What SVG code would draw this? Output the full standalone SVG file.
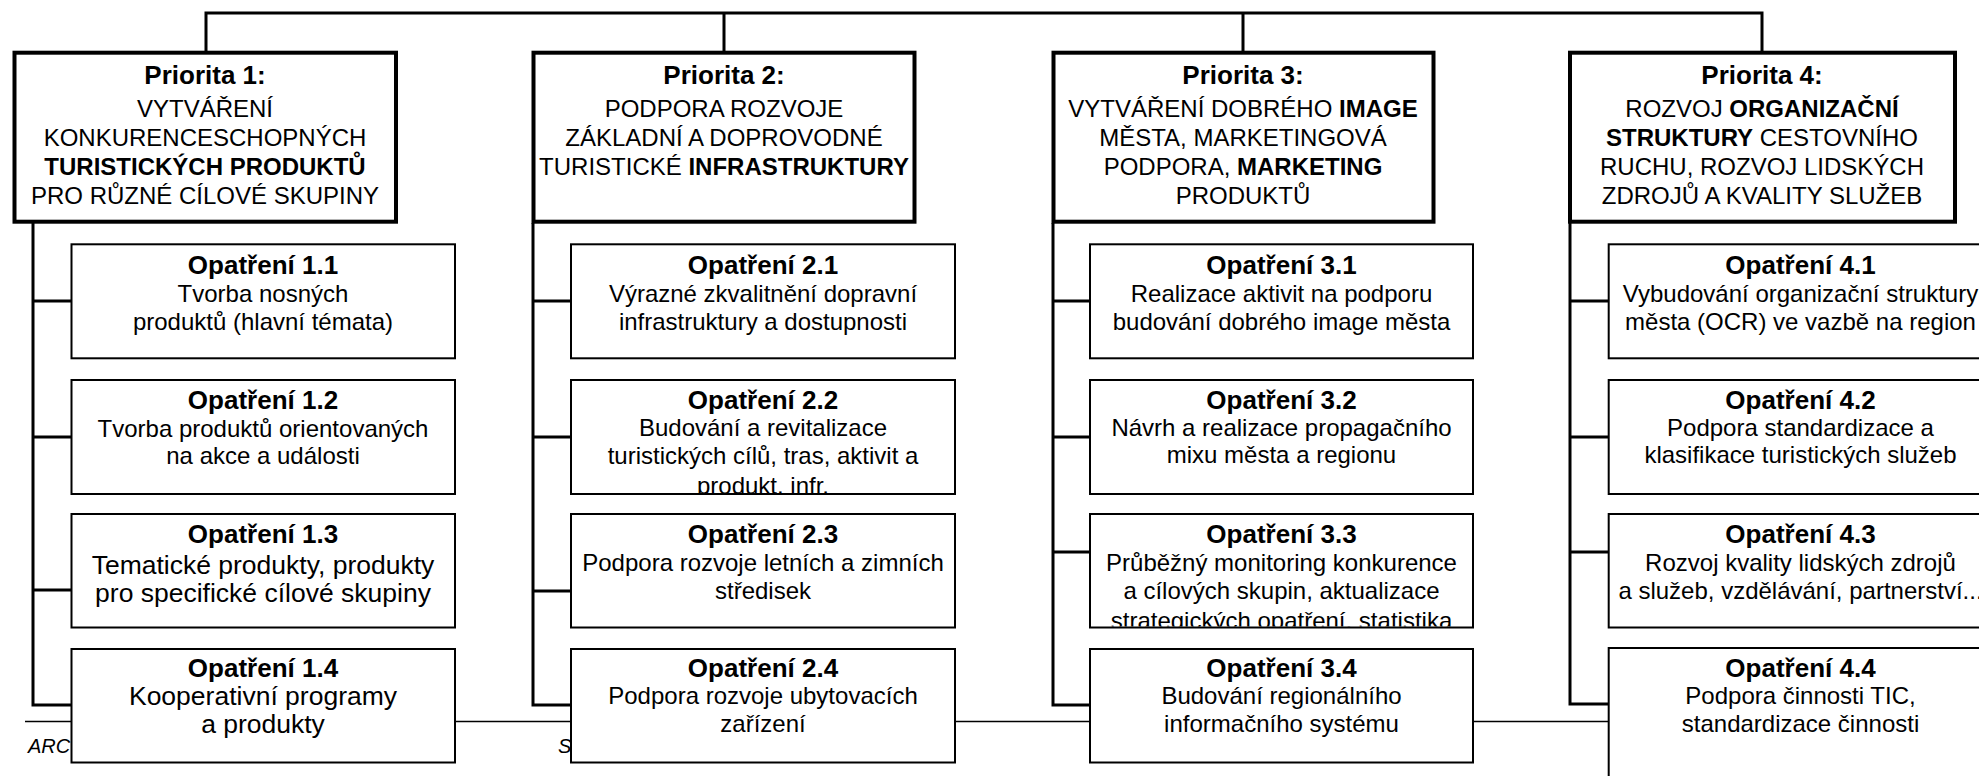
<svg xmlns="http://www.w3.org/2000/svg" width="1979" height="776" viewBox="0 0 1979 776">
<style>
.pbox{fill:#fff;stroke:#000;stroke-width:4}
.mbox{fill:#fff;stroke:#000;stroke-width:2}
.conn{fill:none;stroke:#000;stroke-width:3}
.foot{fill:none;stroke:#000;stroke-width:1.5}
text{font-family:"Liberation Sans",Arial,sans-serif;text-anchor:middle;fill:#000}
.h{font-weight:bold;font-size:26px}
.t{font-size:24px}
.tl{font-size:26.5px}
.b{font-weight:bold}
.ft{font-size:20px;font-style:italic;text-anchor:start}
</style>
<defs>
<clipPath id="c22"><rect x="572" y="381" width="382" height="112"/></clipPath>
<clipPath id="c33"><rect x="1091" y="515" width="381" height="111.5"/></clipPath>
</defs>
<rect width="1979" height="776" fill="#fff"/>
<g id="footer">
<path class="foot" d="M25,721.5 H1979"/>
<text class="ft" x="28" y="753">ARC</text>
<text class="ft" x="558" y="753">S</text>
</g>
<g id="connectors">
<path class="conn" d="M206,51 V13 H1762 V51 M724,13 V51 M1243,13 V51"/>
<path class="conn" d="M33,223 V705 H71 M33,301 H71 M33,437 H71 M33,590 H71"/>
<path class="conn" d="M533,223 V705 H571 M533,301 H571 M533,437 H571 M533,591 H571"/>
<path class="conn" d="M1053,223 V705 H1090 M1053,301 H1090 M1053,437 H1090 M1053,552 H1090"/>
<path class="conn" d="M1570,223 V704 H1608 M1570,301 H1608 M1570,437 H1608 M1570,552 H1608"/>
</g>
<g id="p1">
<rect class="pbox" x="14.5" y="52.7" width="381.5" height="169"/>
<text class="h" x="205" y="84">Priorita 1:</text>
<text class="t" x="205" y="117">VYTVÁŘENÍ</text>
<text class="t" x="205" y="146">KONKURENCESCHOPNÝCH</text>
<text class="t b" x="205" y="175">TURISTICKÝCH PRODUKTŮ</text>
<text class="t" x="205" y="204">PRO RŮZNÉ CÍLOVÉ SKUPINY</text>
</g>
<g id="p2">
<rect class="pbox" x="533.5" y="52.7" width="381" height="169"/>
<text class="h" x="724" y="84">Priorita 2:</text>
<text class="t" x="724" y="117">PODPORA ROZVOJE</text>
<text class="t" x="724" y="146">ZÁKLADNÍ A DOPROVODNÉ</text>
<text class="t" x="724" y="175">TURISTICKÉ <tspan class="b">INFRASTRUKTURY</tspan></text>
</g>
<g id="p3">
<rect class="pbox" x="1053.5" y="52.7" width="380" height="169"/>
<text class="h" x="1243" y="84">Priorita 3:</text>
<text class="t" x="1243" y="117">VYTVÁŘENÍ DOBRÉHO <tspan class="b">IMAGE</tspan></text>
<text class="t" x="1243" y="146">MĚSTA, MARKETINGOVÁ</text>
<text class="t" x="1243" y="175">PODPORA, <tspan class="b">MARKETING</tspan></text>
<text class="t" x="1243" y="204">PRODUKTŮ</text>
</g>
<g id="p4">
<rect class="pbox" x="1570" y="52.7" width="385" height="169"/>
<text class="h" x="1762" y="84">Priorita 4:</text>
<text class="t" x="1762" y="117">ROZVOJ <tspan class="b">ORGANIZAČNÍ</tspan></text>
<text class="t" x="1762" y="146"><tspan class="b">STRUKTURY</tspan> CESTOVNÍHO</text>
<text class="t" x="1762" y="175">RUCHU, ROZVOJ LIDSKÝCH</text>
<text class="t" x="1762" y="204">ZDROJŮ A KVALITY SLUŽEB</text>
</g>
<g id="m11">
<rect class="mbox" x="71.5" y="244.3" width="383.5" height="114"/>
<text class="h" x="263" y="274">Opatření 1.1</text>
<text class="t" x="263" y="302">Tvorba nosných</text>
<text class="t" x="263" y="330">produktů (hlavní témata)</text>
</g>
<g id="m12">
<rect class="mbox" x="71.5" y="380" width="383.5" height="114"/>
<text class="h" x="263" y="409">Opatření 1.2</text>
<text class="t" x="263" y="436.5">Tvorba produktů orientovaných</text>
<text class="t" x="263" y="463.5">na akce a události</text>
</g>
<g id="m13">
<rect class="mbox" x="71.5" y="514" width="383.5" height="113.5"/>
<text class="h" x="263" y="543">Opatření 1.3</text>
<text class="tl" x="263" y="574">Tematické produkty, produkty</text>
<text class="tl" x="263" y="602">pro specifické cílové skupiny</text>
</g>
<g id="m14">
<rect class="mbox" x="71.5" y="649" width="383.5" height="113.5"/>
<text class="h" x="263" y="677">Opatření 1.4</text>
<text class="tl" x="263" y="705">Kooperativní programy</text>
<text class="tl" x="263" y="733">a produkty</text>
</g>
<g id="m21">
<rect class="mbox" x="571" y="244.3" width="384" height="114"/>
<text class="h" x="763" y="274">Opatření 2.1</text>
<text class="t" x="763" y="302">Výrazné zkvalitnění dopravní</text>
<text class="t" x="763" y="330">infrastruktury a dostupnosti</text>
</g>
<g id="m22">
<rect class="mbox" x="571" y="380" width="384" height="114"/>
<text class="h" x="763" y="409">Opatření 2.2</text>
<text class="t" x="763" y="436">Budování a revitalizace</text>
<text class="t" x="763" y="463.5">turistických cílů, tras, aktivit a</text>
<text class="t" x="763" y="494" clip-path="url(#c22)">produkt. infr.</text>
</g>
<g id="m23">
<rect class="mbox" x="571" y="514" width="384" height="113.5"/>
<text class="h" x="763" y="543">Opatření 2.3</text>
<text class="t" x="763" y="571">Podpora rozvoje letních a zimních</text>
<text class="t" x="763" y="599">středisek</text>
</g>
<g id="m24">
<rect class="mbox" x="571" y="649" width="384" height="113.5"/>
<text class="h" x="763" y="677">Opatření 2.4</text>
<text class="t" x="763" y="704">Podpora rozvoje ubytovacích</text>
<text class="t" x="763" y="732">zařízení</text>
</g>
<g id="m31">
<rect class="mbox" x="1090" y="244.3" width="383" height="114"/>
<text class="h" x="1281.5" y="273.5">Opatření 3.1</text>
<text class="t" x="1281.5" y="302">Realizace aktivit na podporu</text>
<text class="t" x="1281.5" y="329.5">budování dobrého image města</text>
</g>
<g id="m32">
<rect class="mbox" x="1090" y="380" width="383" height="114"/>
<text class="h" x="1281.5" y="409">Opatření 3.2</text>
<text class="t" x="1281.5" y="436">Návrh a realizace propagačního</text>
<text class="t" x="1281.5" y="463">mixu města a regionu</text>
</g>
<g id="m33">
<rect class="mbox" x="1090" y="514" width="383" height="113.5"/>
<text class="h" x="1281.5" y="543">Opatření 3.3</text>
<text class="t" x="1281.5" y="571">Průběžný monitoring konkurence</text>
<text class="t" x="1281.5" y="599">a cílových skupin, aktualizace</text>
<text class="t" x="1281.5" y="629" clip-path="url(#c33)">strategických opatření, statistika</text>
</g>
<g id="m34">
<rect class="mbox" x="1090" y="649" width="383" height="113.5"/>
<text class="h" x="1281.5" y="677">Opatření 3.4</text>
<text class="t" x="1281.5" y="704">Budování regionálního</text>
<text class="t" x="1281.5" y="732">informačního systému</text>
</g>
<g id="m41">
<rect class="mbox" x="1608.7" y="244.3" width="384" height="114"/>
<text class="h" x="1800.5" y="273.5">Opatření 4.1</text>
<text class="t" x="1800.5" y="302">Vybudování organizační struktury</text>
<text class="t" x="1800.5" y="329.5">města (OCR) ve vazbě na region</text>
</g>
<g id="m42">
<rect class="mbox" x="1608.7" y="380" width="384" height="114"/>
<text class="h" x="1800.5" y="409">Opatření 4.2</text>
<text class="t" x="1800.5" y="436">Podpora standardizace a</text>
<text class="t" x="1800.5" y="463">klasifikace turistických služeb</text>
</g>
<g id="m43">
<rect class="mbox" x="1608.7" y="514" width="384" height="113.5"/>
<text class="h" x="1800.5" y="543">Opatření 4.3</text>
<text class="t" x="1800.5" y="571">Rozvoj kvality lidských zdrojů</text>
<text class="t" x="1800.5" y="599">a služeb, vzdělávání, partnerství...</text>
</g>
<g id="m44">
<rect class="mbox" x="1608.7" y="648" width="384" height="150"/>
<text class="h" x="1800.5" y="677">Opatření 4.4</text>
<text class="t" x="1800.5" y="704">Podpora činnosti TIC,</text>
<text class="t" x="1800.5" y="732">standardizace činnosti</text>
</g>
</svg>
